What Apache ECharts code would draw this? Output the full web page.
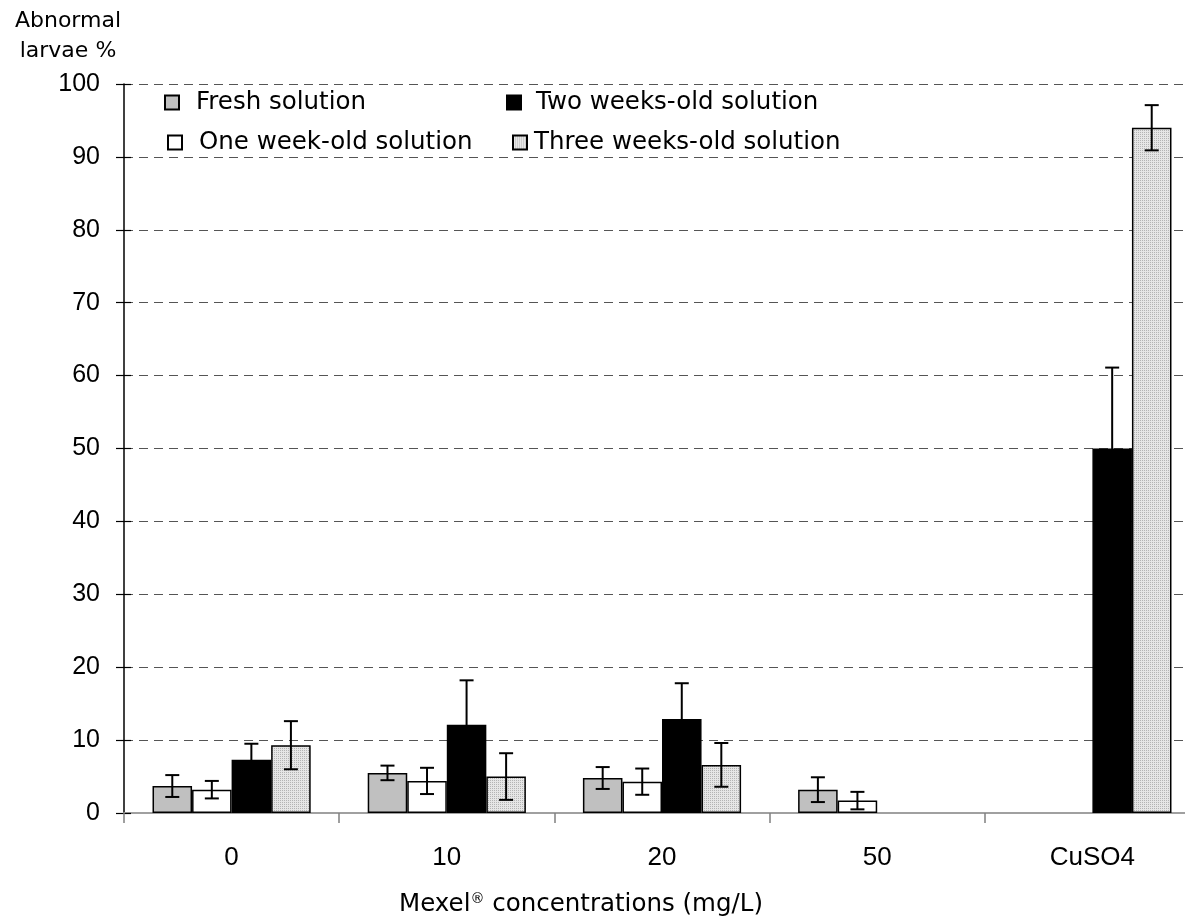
<!DOCTYPE html>
<html><head><meta charset="utf-8">
<script src="https://cdn.jsdelivr.net/npm/echarts@6/dist/echarts.min.js"></script>
<style>html,body{margin:0;padding:0;background:#fff;overflow:hidden}#c{width:1205px;height:917px}</style>
</head><body><div id="c"></div>
<script>
// ---- data ----
const categories = ['0', '10', '20', '50', 'CuSO4'];
const seriesNames = ['Fresh solution', 'One week-old solution', 'Two weeks-old solution', 'Three weeks-old solution'];
const fresh      = [3.7, 5.5, 4.8, 3.2, null];
const oneWeek    = [3.2, 4.4, 4.3, 1.7, null];
const twoWeeks   = [7.3, 12.1, 12.9, null, 50.0];
const threeWeeks = [9.3, 5.0, 6.6, null, 94.0];
const freshErr      = [1.5, 1.0, 1.5, 1.7, null];
const oneWeekErr    = [1.2, 1.8, 1.8, 1.2, null];
const twoWeeksErr   = [2.2, 6.1, 4.9, null, 11.1];
const threeWeeksErr = [3.3, 3.2, 3.0, null, 3.1];
const yMin = 0, yMax = 100, yStep = 10;

// ---- styles ----
const pc = document.createElement('canvas'); pc.width = 2; pc.height = 2;
const g = pc.getContext('2d');
g.fillStyle = '#e6e6e6'; g.fillRect(0, 0, 2, 2);
g.fillStyle = '#b4b4b4'; g.fillRect(0, 0, 1, 1);
const dotted = { image: pc, repeat: 'repeat' };

const seriesList = [
  { name: seriesNames[0], values: fresh, err: freshErr, color: '#c0c0c0' },
  { name: seriesNames[1], values: oneWeek, err: oneWeekErr, color: '#ffffff' },
  { name: seriesNames[2], values: twoWeeks, err: twoWeeksErr, color: '#000000' },
  { name: seriesNames[3], values: threeWeeks, err: threeWeeksErr, color: dotted }
];
const CAT_GAP = 0.265;

const errData = [];
seriesList.forEach((s, si) => s.values.forEach((v, ci) => {
  if (v != null && s.err[ci] != null) errData.push([ci, si, v, s.err[ci]]);
}));

const bars = seriesList.map(s => ({
  name: s.name, type: 'bar', data: s.values,
  barGap: '0%', barCategoryGap: (CAT_GAP * 100) + '%',
  itemStyle: { color: s.color, borderColor: '#000', borderWidth: 1.5 },
  z: 2
}));

const legendBase = {
  orient: 'horizontal', padding: 0, itemWidth: 14, itemHeight: 14, icon: 'rect',
  selectedMode: false,
  textStyle: { fontFamily: 'DejaVu Sans', fontSize: 24.5, color: '#000' }
};
function lg(name, left, top, pad) {
  return Object.assign({}, legendBase, {
    data: [name], left: left, top: top,
    textStyle: Object.assign({}, legendBase.textStyle, { padding: [0, 0, 0, pad] })
  });
}

const option = {
  animation: false,
  backgroundColor: '#fff',
  grid: { left: 124, right: 5, top: 84, bottom: 104, containLabel: false },
  legend: [
    lg(seriesNames[0], 164, 90, 12),
    lg(seriesNames[1], 167, 130, 12),
    lg(seriesNames[2], 506, 90, 10),
    lg(seriesNames[3], 512, 130, 2)
  ],
  xAxis: [{
    type: 'category', data: categories, position: 'bottom',
    axisLine: { lineStyle: { color: '#000', width: 1.5 } },
    axisTick: { show: true, alignWithLabel: false, length: 10, lineStyle: { color: '#808080', width: 1.5 } },
    axisLabel: { fontFamily: 'Liberation Sans', fontSize: 26, color: '#000', margin: 32 },
    splitLine: { show: false }
  }, {
    type: 'category', data: categories, position: 'top',
    axisLine: { show: true, lineStyle: { color: '#a0a0a0', width: 2 } },
    axisTick: { show: false }, axisLabel: { show: false }, splitLine: { show: false }
  }],
  yAxis: [{
    type: 'value', min: yMin, max: yMax, interval: yStep,
    axisLine: { show: true, lineStyle: { color: '#000', width: 1.5 } },
    axisTick: { show: true, length: 8, lineStyle: { color: '#000', width: 1.2 } },
    axisLabel: { fontFamily: 'Liberation Sans', fontSize: 25, color: '#000', margin: 24 },
    splitLine: { show: true, lineStyle: { color: '#555', width: 1, type: [9, 6] } }
  }, {
    type: 'value', min: yMin, max: yMax, interval: yStep, position: 'left', offset: 0,
    axisLine: { show: false },
    axisTick: { show: true, inside: true, length: 7, lineStyle: { color: '#000', width: 1.2 } },
    axisLabel: { show: false }, splitLine: { show: false }
  }],
  graphic: [
    { type: 'text', x: 68, y: 6, z: 10,
      style: { text: 'Abnormal\nlarvae %', fill: '#000', fontFamily: 'DejaVu Sans', fontSize: 22,
               lineHeight: 30, align: 'center', textAlign: 'center' } },
    { type: 'text', x: 581, y: 892, z: 10,
      style: { text: 'Mexel{sup|®} concentrations (mg/L)', fill: '#000', fontFamily: 'DejaVu Sans', fontSize: 24.5,
               align: 'center', textAlign: 'center',
               rich: { sup: { fontSize: 14, fontFamily: 'DejaVu Sans', verticalAlign: 'top', fill: '#000' } } } }
  ],
  series: bars.concat([{
    type: 'custom', name: 'err', xAxisIndex: 0, yAxisIndex: 0, data: errData,
    encode: { x: 0, y: 2 }, z: 5, silent: true,
    renderItem: (params, api) => {
      const ci = api.value(0), si = api.value(1), v = api.value(2), e = api.value(3);
      const band = api.size([1, 0])[0];
      const bw = band * (1 - CAT_GAP) / 4;
      const cx = api.coord([ci, v])[0] + (si - 1.5) * bw;
      const yt = api.coord([ci, v + e])[1];
      const yb = api.coord([ci, Math.max(v - e, 0)])[1];
      const cap = 7;
      const st = { stroke: '#000', lineWidth: 2 };
      return { type: 'group', children: [
        { type: 'line', shape: { x1: cx, y1: yt, x2: cx, y2: yb }, style: st },
        { type: 'line', shape: { x1: cx - cap, y1: yt, x2: cx + cap, y2: yt }, style: st },
        { type: 'line', shape: { x1: cx - cap, y1: yb, x2: cx + cap, y2: yb }, style: st }
      ] };
    }
  }])
};
const chart = echarts.init(document.getElementById('c'), null, { renderer: 'canvas' });
chart.setOption(option);
</script></body></html>
